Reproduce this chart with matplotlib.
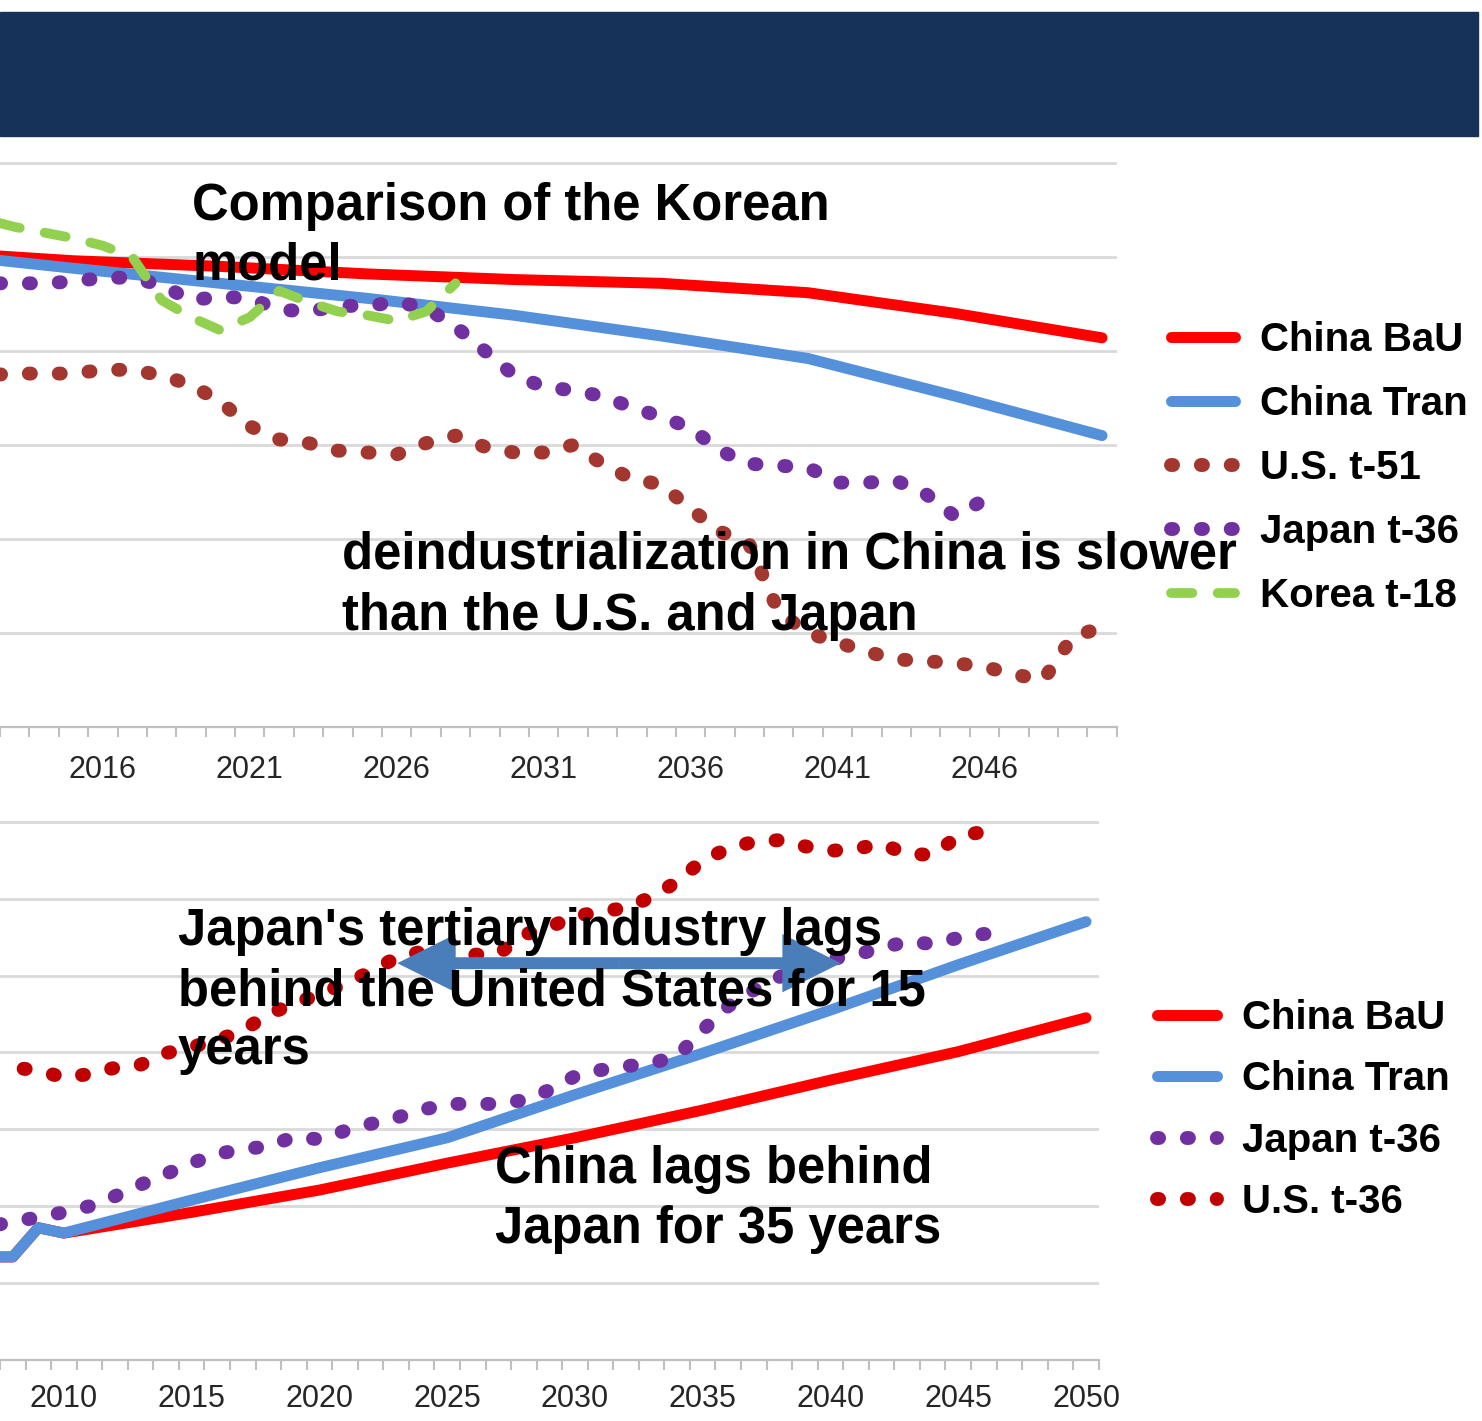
import numpy as np
import matplotlib
matplotlib.use("Agg")
import matplotlib.pyplot as plt
from matplotlib.lines import Line2D
from matplotlib.patches import Rectangle, FancyArrowPatch

plt.rcParams['font.family'] = ['Liberation Sans', 'DejaVu Sans']

# ---- top panel: comparison with the Korean model (industry share) ----
china_years_top = [2012, 2015, 2020, 2025, 2030, 2035, 2040, 2045, 2050]
china_bau_top = [45.1, 44.8, 44.5, 44.1, 43.8, 43.6, 43.1, 42.0, 40.7]
china_tran_top = [44.9, 44.4, 43.6, 42.8, 41.9, 40.8, 39.6, 37.6, 35.5]

us_t51_years = list(range(2012, 2051))
us_t51 = [38.7, 38.8, 38.8, 38.8, 39.0, 39.0, 38.7, 38.2, 37.3, 36.0,
          35.3, 35.1, 34.7, 34.6, 34.5, 35.1, 35.5, 34.9, 34.6, 34.6,
          35.0, 34.0, 33.2, 32.9, 31.6, 30.4, 29.7, 26.1, 25.0, 24.5,
          24.0, 23.6, 23.5, 23.4, 23.2, 22.8, 22.5, 24.8, 25.3]

japan_top_years = list(range(2012, 2047))
japan_t36_top = [43.6, 43.6, 43.6, 43.7, 43.9, 43.9, 43.5, 42.7, 42.9, 42.8,
                 42.2, 42.1, 42.4, 42.4, 42.6, 42.3, 41.3, 40.0, 38.7, 38.1,
                 37.9, 37.6, 37.0, 36.5, 35.9, 34.7, 34.0, 33.9, 33.8, 33.0,
                 33.0, 33.1, 32.4, 31.2, 32.1]

korea_years = list(range(2012, 2029))
korea_t18 = [47.0, 46.6, 46.3, 46.0, 45.6, 45.0, 42.7, 41.8, 41.1, 41.8,
             43.2, 42.6, 42.1, 41.9, 41.6, 42.1, 43.6]

top_ticks = [2016, 2021, 2026, 2031, 2036, 2041, 2046]

# ---- bottom panel: tertiary industry share ----
china_years_bot = [2007, 2008, 2009, 2010, 2015, 2020, 2025, 2030, 2035, 2040, 2045, 2050]
china_bau_bot = [33.4, 33.4, 37.2, 36.5, 39.2, 42.1, 45.6, 48.9, 52.5, 56.4, 60.1, 64.5]
china_tran_bot = [33.4, 33.4, 37.2, 36.5, 40.8, 45.0, 48.9, 54.5, 59.9, 65.5, 71.4, 77.0]

japan_bot_years = list(range(2007, 2048))
japan_t36_bot = [37.4, 37.9, 38.6, 39.2, 40.0, 41.3, 42.8, 44.2, 45.6, 46.8,
                 47.4, 47.8, 49.0, 48.7, 49.8, 50.7, 51.5, 52.5, 53.3, 53.3,
                 53.3, 53.8, 55.1, 56.9, 57.7, 58.2, 58.6, 59.5, 62.9, 66.0,
                 68.1, 69.8, 71.2, 72.1, 72.7, 73.6, 74.4, 74.1, 74.9, 75.4,
                 75.5]
us_bot_years = list(range(2007, 2047))
us_t36_bot = [56.7, 58.0, 57.7, 56.7, 57.2, 58.0, 58.4, 59.9, 60.7, 61.6,
              62.8, 65.0, 66.3, 67.6, 68.9, 70.5, 72.3, 73.1, 72.7, 72.7,
              72.8, 75.3, 76.3, 77.7, 78.3, 78.8, 80.2, 82.2, 85.0, 86.5,
              87.4, 87.6, 86.8, 86.2, 86.5, 87.1, 85.8, 85.7, 88.1, 88.7]

bot_ticks = [2010, 2015, 2020, 2025, 2030, 2035, 2040, 2045, 2050]

# lag arrow (years, share)
lag_start, lag_end, lag_level = 2023.05, 2040.4, 71.6

W, H = 1482, 1421


def fx(px):
    return px / W


def fy(py):
    return 1 - py / H


RED = '#FF0000'
BLUE = '#5590DA'
BROWN = '#A3372F'
PURPLE = '#7030A0'
GREEN = '#92D050'
DARKRED = '#C00000'

solid = dict(lw=7.9, solid_capstyle='round')
dots = dict(lw=10, linestyle=(0, (0.15, 2.0)), dash_capstyle='round')
dashes = dict(lw=7, linestyle=(0, (2.2, 2.6)), dash_capstyle='round')


def style_axis(ax, ticks, lo, hi, step):
    for s in ['left', 'right', 'top']:
        ax.spines[s].set_visible(False)
    ax.spines['bottom'].set_color('#BFBFBF')
    ax.spines['bottom'].set_linewidth(1.6)
    ax.set_yticks(np.arange(lo + step, hi + 0.1, step))
    ax.grid(axis='y', color='#D9D9D9', lw=2)
    ax.tick_params(axis='y', left=False, labelleft=False)
    ax.set_xticks(ticks)
    ax.set_xticklabels([str(t) for t in ticks], fontsize=22, color='#262626')
    ax.set_xticks(np.arange(ax.get_xlim()[0] // 1 + 0.5, 2051, 1), minor=True)
    ax.tick_params(axis='x', which='major', length=0, pad=20)
    ax.tick_params(axis='x', which='minor', length=7, width=1.5, color='#BFBFBF')
    ax.set_axisbelow(True)
    ax.patch.set_alpha(0)


fig = plt.figure(figsize=(W / 100, H / 100), dpi=100)

# banner
fig.add_artist(Rectangle((0, fy(136)), fx(1478), 124 / H,
                         transform=fig.transFigure, color='#173258', zorder=0))

# top chart
ax1 = fig.add_axes([0, fy(727), 1116.75 / W, 31 * 18.8 / H])
ax1.set_xlim(2012.644, 2050.5)
ax1.set_ylim(20, 51)
style_axis(ax1, top_ticks, 20, 50, 5)

ax1.plot(china_years_top, china_bau_top, color=RED, label='China BaU', zorder=3, **solid)
ax1.plot(china_years_top, china_tran_top, color=BLUE, label='China Tran', zorder=4, **solid)
ax1.plot(us_t51_years, us_t51, color=BROWN, label='U.S. t-51', zorder=5, **dots)
ax1.plot(japan_top_years, japan_t36_top, color=PURPLE, label='Japan t-36', zorder=6, **dots)
ax1.plot(korea_years, korea_t18, color=GREEN, label='Korea t-18', zorder=7, **dashes)

ax1.legend(loc='center left', bbox_to_anchor=(fx(1171), fy(468)),
           bbox_transform=fig.transFigure, frameon=False,
           prop=dict(family='Liberation Sans', weight='bold', size=29),
           handlelength=1.6, handletextpad=0.6, labelspacing=0.65,
           borderpad=0, borderaxespad=0)

# bottom chart
ax2 = fig.add_axes([0, fy(1360), 1098.8 / W, 71 * 7.69 / H])
ax2.set_xlim(2007.578, 2050.5)
ax2.set_ylim(20, 91)
style_axis(ax2, bot_ticks, 20, 90, 10)
ax2.tick_params(axis='x', which='major', pad=17)

ax2.plot(china_years_bot, china_bau_bot, color=RED, label='China BaU', zorder=3, **solid)
ax2.plot(china_years_bot, china_tran_bot, color=BLUE, label='China Tran', zorder=4, **solid)
ax2.plot(japan_bot_years, japan_t36_bot, color=PURPLE, label='Japan t-36', zorder=5, **dots)
# shift the dot phase a little so the series ends on a dot
us_dots = dict(dots, linestyle=(0.3, (0.15, 2.0)))
ax2.plot(us_bot_years, us_t36_bot, color=DARKRED, label='U.S. t-36', zorder=6, **us_dots)

handles, labels = ax2.get_legend_handles_labels()
handles[3] = Line2D([], [], color=DARKRED, **dots)
ax2.legend(handles, labels, loc='center left', bbox_to_anchor=(fx(1157), fy(1110)),
           bbox_transform=fig.transFigure, frameon=False,
           prop=dict(family='Liberation Sans', weight='bold', size=29),
           handlelength=1.5, handletextpad=0.6, labelspacing=0.58,
           borderpad=0, borderaxespad=0)

# double-headed lag arrow
mid = (lag_start + lag_end) / 2
for end in (lag_start, lag_end):
    ax2.add_patch(FancyArrowPatch((mid, lag_level), (end, lag_level),
                                  arrowstyle='simple,head_length=4.2,head_width=4.2,tail_width=0.86',
                                  mutation_scale=10, color='#4A7EBB', lw=0,
                                  shrinkA=0, shrinkB=0, zorder=8))

# annotations
note = dict(fontsize=36.5, fontweight='bold', color='black', va='baseline', ha='left')
fig.text(fx(192), fy(220), 'Comparison of the Korean', **note)
fig.text(fx(192), fy(280), 'model', **note)
fig.text(fx(342), fy(569), 'deindustrialization in China is slower', **note)
fig.text(fx(342), fy(630), 'than the U.S. and Japan', **note)
fig.text(fx(178), fy(945), "Japan's tertiary industry lags", **note)
fig.text(fx(178), fy(1005), 'behind the United States for 15', **note)
fig.text(fx(178), fy(1064), 'years', **note)
fig.text(fx(495), fy(1183), 'China lags behind', **note)
fig.text(fx(495), fy(1243), 'Japan for 35 years', **note)

fig.savefig('out.png', dpi=100, facecolor='white')
